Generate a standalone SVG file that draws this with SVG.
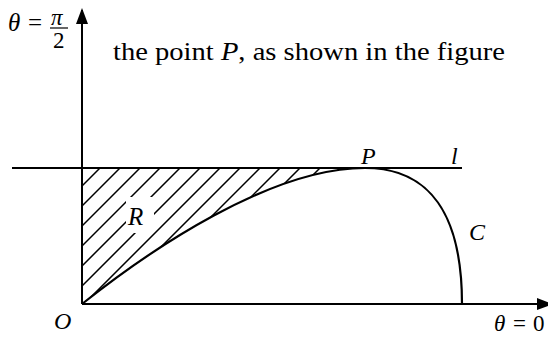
<svg xmlns="http://www.w3.org/2000/svg" width="548" height="338" viewBox="0 0 548 338">
<style>
.ax{stroke:#000;stroke-width:2;fill:none}
.cv{stroke:#000;stroke-width:2.2;fill:none}
.ht{stroke:#000;stroke-width:1.5}
.t{font-family:"Liberation Serif","Times New Roman",serif;fill:#000}
.i{font-style:italic}
</style>
<defs>
<clipPath id="reg"><path d="M82,168 L82,304 C150,250 270,168 365,168 Z"/></clipPath>
<marker id="ah" markerWidth="16" markerHeight="12" refX="14" refY="6" orient="auto" markerUnits="userSpaceOnUse"><path d="M0,0 L16,6 L0,12 Z" fill="#000"/></marker>
</defs>
<rect width="548" height="338" fill="#fff"/>
<g id="hatch" clip-path="url(#reg)">
<path class="ht" d="M82,186 L100,168 M82,206 L120,168 M82,226 L140,168 M82,246 L160,168 M82,266 L180,168 M82,286 L200,168 M82,306 L220,168 M82,326 L240,168 M82,346 L260,168 M82,366 L280,168 M82,386 L300,168 M82,406 L320,168 M82,426 L340,168"/>
</g>
<g id="connectors">
<line class="ax" x1="82" y1="304" x2="82" y2="10" marker-end="url(#ah)"/>
<line class="ax" x1="82" y1="304" x2="551" y2="304" marker-end="url(#ah)"/>
<line x1="12" y1="168" x2="462" y2="168" stroke="#000" stroke-width="1.8"/>
<path class="cv" d="M82,304 C150,250 270,168 365,168 C430,168 462,215 462,304"/>
</g>
<g id="labelR">
<rect x="126" y="197" width="28" height="36" fill="#fff"/>
<text class="t i" x="128" y="225" font-size="25">R</text>
</g>
<g id="labels">
<text class="t" x="113" y="60" font-size="25" textLength="392" lengthAdjust="spacingAndGlyphs">the point <tspan font-style="italic">P</tspan>, as shown in the figure</text>
<text class="t i" x="361" y="164" font-size="24">P</text>
<text class="t i" x="451" y="164" font-size="24">l</text>
<text class="t i" x="469" y="240" font-size="24">C</text>
<text class="t i" x="54" y="329" font-size="24">O</text>
<text class="t i" x="494" y="331" font-size="23">θ</text>
<text class="t" x="513" y="331" font-size="23">=</text>
<text class="t" x="533" y="331" font-size="23">0</text>
<text class="t i" x="8" y="31" font-size="25">θ</text>
<text class="t" x="28" y="31" font-size="25">=</text>
<text class="t i" x="51" y="25" font-size="23">π</text>
<line x1="50" y1="28" x2="68" y2="28" stroke="#000" stroke-width="1.2"/>
<text class="t" x="53" y="48" font-size="23">2</text>
</g>
</svg>
